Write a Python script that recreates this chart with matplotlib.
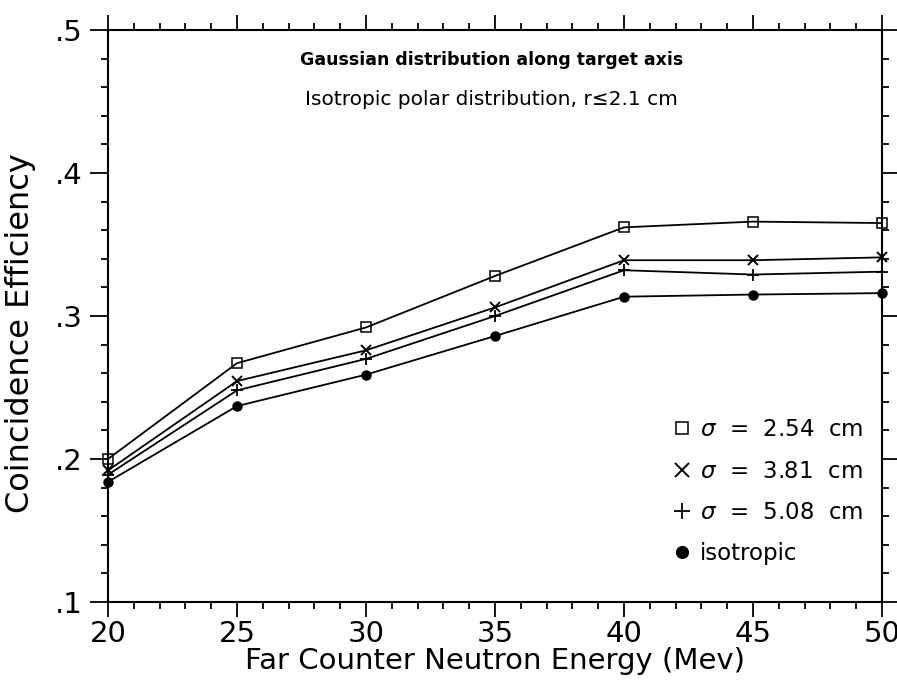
import matplotlib
matplotlib.use("Agg")
import matplotlib.pyplot as plt
from matplotlib.ticker import MultipleLocator, FuncFormatter

# energies (MeV)
energy = [20, 25, 30, 35, 40, 45, 50]

# coincidence efficiency for each source width
eff_254 = [0.200, 0.267, 0.292, 0.328, 0.362, 0.366, 0.365]
eff_381 = [0.192, 0.2545, 0.276, 0.306, 0.339, 0.339, 0.341]
eff_508 = [0.189, 0.248, 0.270, 0.300, 0.332, 0.329, 0.331]
eff_iso = [0.184, 0.237, 0.259, 0.286, 0.3135, 0.315, 0.316]

labels = [r"$\sigma$  =  2.54  cm", r"$\sigma$  =  3.81  cm",
          r"$\sigma$  =  5.08  cm", "isotropic"]

fig = plt.figure(figsize=(8.97, 6.88), dpi=100)
ax = fig.add_axes([0.1204, 0.125, 0.8629, 0.8314])

style = dict(color="black", lw=1.3, clip_on=False)
ax.plot(energy, eff_254, marker="s", ms=7, mfc="none", mew=1.1, label=labels[0], **style)
ax.plot(energy, eff_381, marker="x", ms=7.5, mew=1.4, label=labels[1], **style)
ax.plot(energy, eff_508, marker="+", ms=8.5, mew=1.3, label=labels[2], **style)
ax.plot(energy, eff_iso, marker="o", ms=6.5, mfc="black", label=labels[3], **style)

ax.set_xlim(20, 50)
ax.set_ylim(0.1, 0.5)
ax.xaxis.set_major_locator(MultipleLocator(5))
ax.xaxis.set_minor_locator(MultipleLocator(1))
ax.yaxis.set_major_locator(MultipleLocator(0.1))
ax.yaxis.set_minor_locator(MultipleLocator(0.02))
ax.yaxis.set_major_formatter(FuncFormatter(lambda v, p: f"{v:.1f}".lstrip("0")))

ax.tick_params(which="both", direction="out", top=True, right=True, width=1.3)
ax.tick_params(which="major", labelsize=21)
ax.tick_params(axis="x", which="major", length=11, pad=2)
ax.tick_params(axis="y", which="major", length=13, pad=5)
ax.tick_params(which="minor", length=5)
for s in ax.spines.values():
    s.set_linewidth(1.5)

ax.set_xlabel("Far Counter Neutron Energy (Mev)", fontsize=21)
ax.set_ylabel("Coincidence Efficiency", fontsize=23, va="center")
ax.xaxis.set_label_coords(0.5, -0.078)
ax.yaxis.set_label_coords(-0.113, 0.47)

ax.text(0.496, 0.948, "Gaussian distribution along target axis",
        transform=ax.transAxes, ha="center", va="center", fontsize=12.5, fontweight="bold")
ax.text(0.496, 0.879, "Isotropic polar distribution, r\u22642.1 cm",
        transform=ax.transAxes, ha="center", va="center", fontsize=14.5)

leg = ax.legend(loc="upper left", bbox_to_anchor=(0.7124, 0.341), frameon=False,
                fontsize=16.5, handlelength=1.0, handletextpad=0.25, labelspacing=0.8,
                borderpad=0, markerscale=1.3)
for h in leg.legend_handles:
    h.set_linestyle("None")

fig.savefig("out.png", dpi=100)
